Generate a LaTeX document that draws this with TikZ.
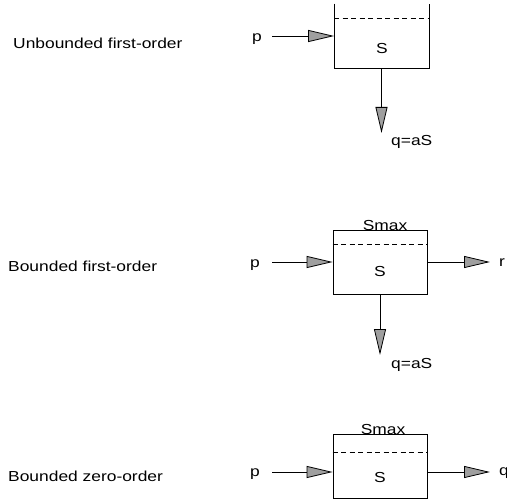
\documentclass[tikz,border=0pt]{standalone}
\usepackage{fontspec}
\setmainfont[FakeStretch=1.2]{Liberation Sans}
\usetikzlibrary{arrows.meta,positioning}

\begin{document}
\begin{tikzpicture}[
x=1pt, y=-1pt,
every node/.style={font=\fontsize{14.5}{17}\selectfont, inner sep=0pt},
store/.style={minimum width=94pt, minimum height=64pt, line width=0.8pt},
wall/.style={line width=0.8pt},
level/.style={line width=0.8pt, dash pattern=on 5pt off 3.5pt},
flow/.style={line width=0.8pt, -{Triangle[length=26pt,width=12pt,fill=gray!75]}},
]
\useasboundingbox (0,0) rectangle (507,503);

% unbounded first-order
\node[anchor=west] (t1) at (13,43) {Unbounded first-order};
\node[store] (b1) at (381.5,36) {};
\draw[wall] (b1.north west) -- (b1.south west) -- (b1.south east) -- (b1.north east);
\draw[level] ([yshift=-15pt]b1.north west) -- ([yshift=-15pt]b1.north east);
\node (s1) at (382,49) {S};
\node (p1) at (257,39) {p};
\coordinate (p1e) at (272,36);
\draw[flow] (p1e) -- (b1.west);
\coordinate (q1e) at (382,133);
\draw[flow] (b1.south) -- (b1.south |- q1e);
\node[anchor=west] (q1) at (391,142) {q=aS};

% bounded first-order
\node[anchor=west] (t2) at (8,266) {Bounded first-order};
\node[store,draw] (b2) at (380,262) {};
\node[anchor=base] (m2) at (385,230) {Smax};
\draw[level] ([yshift=-15pt]b2.north west) -- ([yshift=-15pt]b2.north east);
\node (s2) at (380,272) {S};
\node (p2) at (255,265) {p};
\coordinate (p2e) at (272,262);
\draw[flow] (p2e) -- (b2.west);
\coordinate (r2e) at (490,262);
\draw[flow] (b2.east) -- (r2e);
\node[anchor=west] (r2) at (499,263) {r};
\coordinate (q2e) at (380,355);
\draw[flow] (b2.south) -- (q2e);
\node[anchor=west] (q2) at (391,365) {q=aS};

% bounded zero-order
\node[anchor=west] (t3) at (8,476) {Bounded zero-order};
\node[store,draw] (b3) at (380,466) {};
\node[anchor=base] (m3) at (383,434) {Smax};
\draw[level] ([yshift=-19pt]b3.north west) -- ([yshift=-19pt]b3.north east);
\node (s3) at (380,478) {S};
\node (p3) at (255,474) {p};
\coordinate (p3e) at (272,472);
\draw[flow] (p3e) -- ([yshift=-6pt]b3.west);
\coordinate (q3e) at (490,472);
\draw[flow] ([yshift=-6pt]b3.east) -- (q3e);
\node[anchor=west] (q3) at (499,473) {q};
\end{tikzpicture}
\end{document}
